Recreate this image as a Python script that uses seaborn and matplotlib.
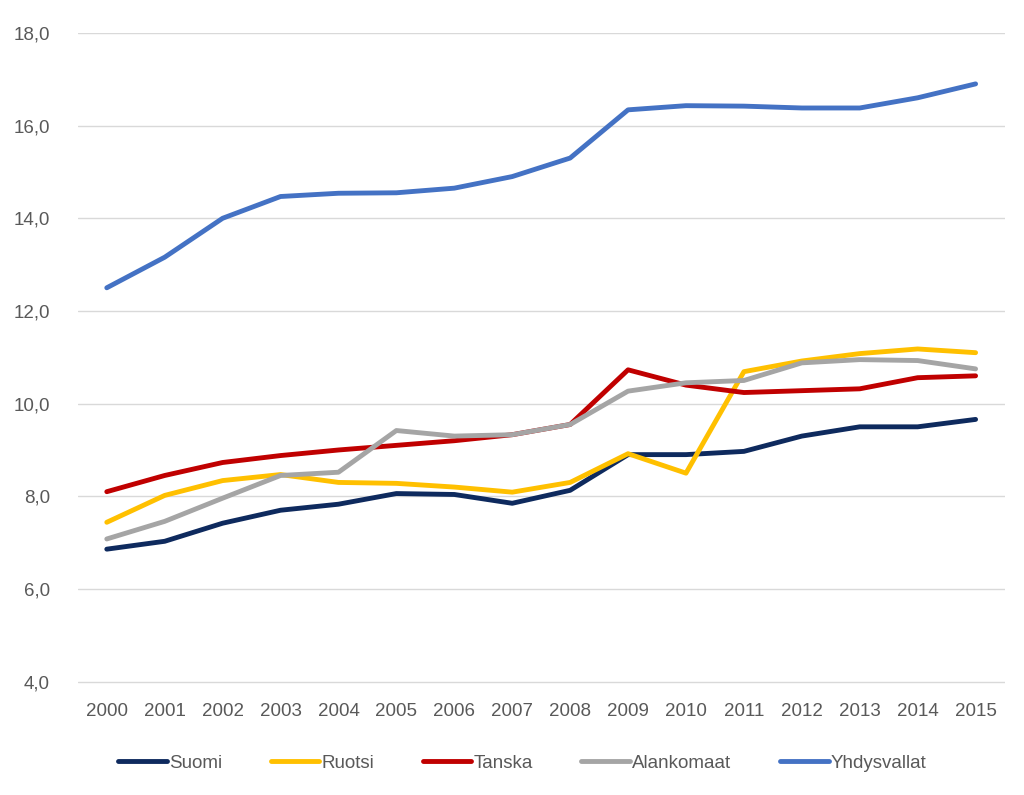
import pandas as pd
import seaborn as sns
import matplotlib.pyplot as plt
from matplotlib.ticker import FuncFormatter

years = list(range(2000, 2016))
suomi = [6.86, 7.03, 7.42, 7.70, 7.83, 8.06, 8.04, 7.85, 8.13, 8.90, 8.90, 8.97, 9.30, 9.50, 9.50, 9.66]
ruotsi = [7.44, 8.02, 8.34, 8.47, 8.30, 8.28, 8.20, 8.09, 8.30, 8.92, 8.50, 10.69, 10.92, 11.08, 11.18, 11.10]
tanska = [8.10, 8.45, 8.73, 8.88, 9.00, 9.10, 9.20, 9.33, 9.55, 10.73, 10.40, 10.24, 10.28, 10.32, 10.56, 10.60]
alankomaat = [7.08, 7.46, 7.96, 8.45, 8.52, 9.42, 9.30, 9.33, 9.55, 10.27, 10.45, 10.50, 10.88, 10.95, 10.93, 10.75]
yhdysvallat = [12.50, 13.16, 14.00, 14.47, 14.54, 14.55, 14.65, 14.90, 15.30, 16.34, 16.43, 16.42, 16.38, 16.38, 16.60, 16.90]

series = {
    "Suomi": suomi,
    "Ruotsi": ruotsi,
    "Tanska": tanska,
    "Alankomaat": alankomaat,
    "Yhdysvallat": yhdysvallat,
}
colors = ["#0E2A5E", "#FFC000", "#C00000", "#A5A5A5", "#4472C4"]

rows = []
for name, vals in series.items():
    for y, v in zip(years, vals):
        rows.append({"year": y, "value": v, "maa": name})
df = pd.DataFrame(rows)

sns.set_style("white")
plt.rcParams["font.family"] = ["Liberation Sans", "DejaVu Sans"]

fig = plt.figure(figsize=(10.24, 7.95), dpi=100)
ax = fig.add_axes([0.076, 0.1396, 0.905, 0.819])

sns.lineplot(data=df, x="year", y="value", hue="maa", palette=colors,
             linewidth=3.5, ax=ax, legend=False)

ax.set_xlim(1999.5, 2015.5)
ax.set_ylim(3.95, 18)
ax.set_yticks([4, 6, 8, 10, 12, 14, 16, 18])
ax.set_xticks(years)
ax.yaxis.set_major_formatter(FuncFormatter(lambda v, p: f"{v:.1f}".replace(".", ",")))
ax.grid(axis="y", color="#D9D9D9", linewidth=1)
ax.set_axisbelow(True)
for s in ax.spines.values():
    s.set_visible(False)
ax.tick_params(axis="both", length=0, labelsize=13.5, labelcolor="#595959")
ax.tick_params(axis="x", pad=14)
ax.tick_params(axis="y", pad=20)
ax.set_xlabel("")
ax.set_ylabel("")

handles = [plt.Line2D([], [], color=c, linewidth=3.5) for c in colors]
fig.legend(handles, list(series.keys()), loc="center", bbox_to_anchor=(0.51, 0.04),
           ncol=5, frameon=False, fontsize=13.5, handlelength=2.6, handletextpad=0.1,
           columnspacing=2.6, labelcolor="#595959")

fig.savefig("out.png", dpi=100)
